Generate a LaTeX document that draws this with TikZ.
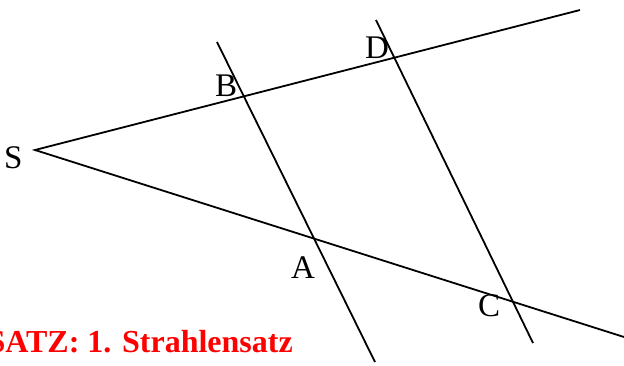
\documentclass[tikz,border=0pt]{standalone}
\usepackage{fontspec}
\setmainfont{Liberation Serif}
\begin{document}
\begin{tikzpicture}[x=1pt,y=-1pt,
  ray/.style={line width=1.8pt},
  lbl/.style={font=\fontsize{33}{36}\selectfont, inner sep=0pt, anchor=base west},
  title/.style={font=\fontsize{32}{36}\selectfont\bfseries, text=red, inner sep=0pt, anchor=base east}]
\useasboundingbox (0,0) rectangle (624,365);
\coordinate (S) at (35,150);
\coordinate (U) at (580,10);
\coordinate (L) at (624,337);
\coordinate (P1) at (217,42);
\coordinate (P2) at (375,362);
\coordinate (Q1) at (376,20);
\coordinate (Q2) at (533,343);
\draw[ray] (U) -- (S) -- (L);
\draw[ray] (P1) -- (P2);
\draw[ray] (Q1) -- (Q2);
\node[lbl] (ls) at (4,168) {S};
\node[lbl] (lb) at (215,96) {B};
\node[lbl] (ld) at (365,58) {D};
\node[lbl] (la) at (291,278) {A};
\node[lbl] (lc) at (478,316) {C};
\node[title] (t) at (293,352) {SATZ: 1. Strahlensatz};
\end{tikzpicture}
\end{document}
